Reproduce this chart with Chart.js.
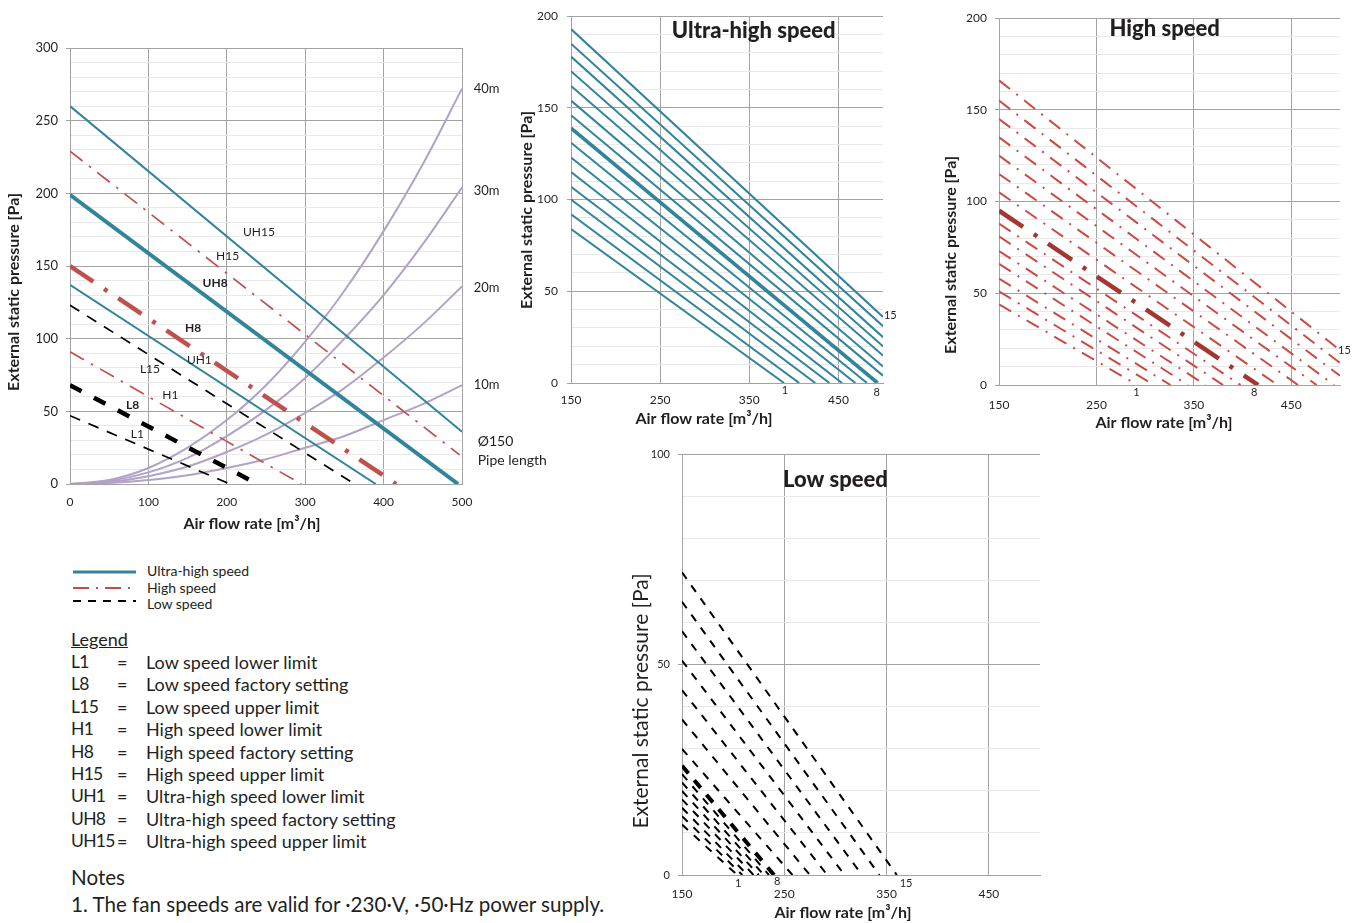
<!DOCTYPE html>
<html>
<head>
<meta charset="utf-8">
<script src="https://cdn.jsdelivr.net/npm/chart.js@4/dist/chart.umd.min.js"></script>
<style>
  body { margin: 0; background: #fff; font-family: Lato, sans-serif; color: #231f20; }
  #page { position: relative; width: 1362px; height: 923px; overflow: hidden; }
  canvas { position: absolute; }
  .t { position: absolute; white-space: nowrap; }
  .key { font-size: 14px; line-height: 16px; }
  .row { font-size: 18px; line-height: 22px; }
  .code { letter-spacing: -0.7px; font-size: 17.5px; }
  .note { font-size: 20.6px; line-height: 26px; }
</style>
</head>
<body>
<div id="page">
  <canvas id="main" width="580" height="510" style="left:0;top:30px"></canvas>
  <canvas id="ultra" width="400" height="440" style="left:510px;top:0"></canvas>
  <canvas id="high" width="427" height="445" style="left:935px;top:0"></canvas>
  <canvas id="low" width="440" height="483" style="left:625px;top:440px"></canvas>

  <svg class="t" style="left:70px;top:562px" width="70" height="46">
    <line x1="3" y1="10" x2="66" y2="10" stroke="#31849b" stroke-width="3"/>
    <line x1="3" y1="26" x2="66" y2="26" stroke="#c0504d" stroke-width="1.8" stroke-dasharray="16 7 2 7"/>
    <line x1="3" y1="39" x2="66" y2="39" stroke="#000" stroke-width="1.8" stroke-dasharray="8 7"/>
  </svg>
  <div class="t key" style="left:147px;top:563px">Ultra-high speed</div>
  <div class="t key" style="left:147px;top:580px">High speed</div>
  <div class="t key" style="left:147px;top:596px">Low speed</div>

  <div class="t row" style="left:71px;top:628px;text-decoration:underline">Legend</div>
  <div id="legendRows"></div>

  <div class="t note" style="left:71px;top:864px">Notes</div>
  <div class="t note" style="left:71px;top:891px">1. The fan speeds are valid for ·230·V, ·50·Hz power supply.</div>
</div>

<script>
// ---------- data (air flow m3/h, pressure Pa) ----------

// main chart lines, straight from start to end
const mainNames = ['UH15', 'UH8', 'UH1', 'H15', 'H8', 'H1', 'L15', 'L8', 'L1'];
const mainStartPa = [260, 199, 137, 229, 150, 91, 123, 68, 47];
const mainEndFlow = [500, 495, 390, 497, 416, 295, 363, 239, 204];
const mainEndPa = [36, 0, 0, 20, 0, 0, 0, 0, 0];

// pipe length curves (Ø150)
const pipeFlow = [0, 50, 100, 150, 200, 250, 300, 350, 400, 450, 500];
const pipe10m = [0, 0.7, 2.7, 6, 11, 17, 25, 33, 44, 55, 68];
const pipe20m = [0, 1.4, 5.4, 12, 22, 34, 49, 66, 87, 110, 136];
const pipe30m = [0, 2, 8, 18, 33, 51, 73, 100, 130, 165, 204];
const pipe40m = [0, 2.7, 11, 25, 44, 68, 98, 133, 174, 220, 272];

// small charts: steps 1..15, each line from flow 150 to its end
const steps = [1, 2, 3, 4, 5, 6, 7, 8, 9, 10, 11, 12, 13, 14, 15];
const uhStartPa = [84, 92, 100, 107, 115, 123, 131, 139, 146, 154, 162, 170, 178, 185, 193];
const uhEndFlow = [389, 406, 424, 440, 454, 469, 482, 494, 500, 500, 500, 500, 500, 500, 500];
const uhEndPa = [0, 0, 0, 0, 0, 0, 0, 0, 4, 9, 15, 20, 25, 31, 36];

const hStartPa = [44, 51, 58, 66, 73, 81, 88, 95, 105, 115, 125, 135, 145, 155, 166];
const hEndFlow = [292, 309, 326, 344, 362, 380, 398, 416, 436, 457, 476, 494, 500, 500, 500];
const hEndPa = [0, 0, 0, 0, 0, 0, 0, 0, 0, 0, 0, 0, 5, 12, 19];

const lStartPa = [12, 14, 16, 18, 20, 22, 24, 26, 30, 37, 44, 51, 58, 65, 72];
const lEndFlow = [204, 209, 214, 220, 225, 230, 235, 240, 258, 275, 292, 309, 326, 343, 360];
const lEndPa = [0, 0, 0, 0, 0, 0, 0, 0, 0, 0, 0, 0, 0, 0, 0];

const smallFlowTicks = [150, 250, 350, 450];

const legendCodes = ['L1', 'L8', 'L15', 'H1', 'H8', 'H15', 'UH1', 'UH8', 'UH15'];
const legendTexts = ['Low speed lower limit', 'Low speed factory setting', 'Low speed upper limit',
  'High speed lower limit', 'High speed factory setting', 'High speed upper limit',
  'Ultra-high speed lower limit', 'Ultra-high speed factory setting', 'Ultra-high speed upper limit'];

// ---------- styles ----------
const TEAL = '#31849b', RED = '#c0504d', DARKRED = '#a5362f', PURPLE = '#b3a2c7';
const GRID = '#a3a3a3', MINOR = '#e9e9e9', TXT = '#231f20';
const FLOW_TITLE = 'Air flow rate [m³/h]', PA_TITLE = 'External static pressure [Pa]';

Chart.defaults.font.family = 'Lato';
Chart.defaults.color = TXT;

const mainStyle = {
  UH15: {color: TEAL, width: 2, dash: []},
  UH8: {color: TEAL, width: 4, dash: []},
  UH1: {color: TEAL, width: 2, dash: []},
  H15: {color: RED, width: 1.7, dash: [16, 8, 2.5, 8]},
  H8: {color: RED, width: 4.5, dash: [28, 13, 4, 13]},
  H1: {color: RED, width: 1.7, dash: [16, 8, 2.5, 8]},
  L15: {color: '#000', width: 1.7, dash: [11, 9]},
  L8: {color: '#000', width: 4.5, dash: [13, 14]},
  L1: {color: '#000', width: 1.7, dash: [11, 9]}
};

// text drawn at data coordinates (q, p) or, for axis titles, at canvas pixels (px, py)
const textLabels = {
  id: 'textLabels',
  afterDatasetsDraw(chart, args, opts) {
    const {ctx, scales: {x, y}} = chart;
    (opts.items || []).forEach(it => {
      ctx.save();
      ctx.font = (it.weight || (it.bold ? 'bold' : 'normal')) + ' ' + (it.size || 12) + 'px Lato';
      ctx.fillStyle = TXT;
      ctx.textAlign = it.align || 'center';
      ctx.textBaseline = 'middle';
      const px = it.px !== undefined ? it.px : x.getPixelForValue(it.q);
      const py = it.py !== undefined ? it.py : y.getPixelForValue(it.p);
      ctx.translate(px, py);
      if (it.rotate) ctx.rotate(-Math.PI / 2);
      ctx.fillText(it.text, 0, 0);
      ctx.restore();
    });
  }
};

function seg(q0, p0, q1, p1) {
  return [{x: q0, y: p0}, {x: q1, y: p1}];
}

function lineSet(data, color, width, dash) {
  return {data, borderColor: color, borderWidth: width, borderDash: dash,
    showLine: true, pointRadius: 0, fill: false, borderCapStyle: 'butt'};
}

function yScale(max, opts) {
  return {
    min: 0, max,
    ticks: {stepSize: 10, autoSkip: false, padding: opts.tickPad, font: {size: opts.tickSize || 12},
      callback: v => (v % 50 === 0 ? v : '')},
    grid: {color: c => (c.tick && c.tick.value % 50 === 0 ? GRID : MINOR),
      tickColor: c => (c.tick && c.tick.value % 50 === 0 ? GRID : 'rgba(0,0,0,0)'),
      tickLength: 4},
    border: {color: GRID},
    afterFit: s => { s.width = opts.width; }
  };
}

function xScale(min, opts) {
  const sc = {
    min, max: 500,
    ticks: {stepSize: 100, autoSkip: false, padding: opts.tickPad, maxRotation: 0, font: {size: 12}},
    grid: {color: GRID, drawTicks: false},
    border: {color: GRID},
    afterFit: s => { s.height = opts.height; }
  };
  if (opts.ticks) sc.afterBuildTicks = s => { s.ticks = opts.ticks.map(v => ({value: v})); };
  return sc;
}

function axisTitles(xt, yt, yFont) {
  return [
    {text: FLOW_TITLE, px: xt[0], py: xt[1], bold: true, size: 16},
    Object.assign({text: PA_TITLE, px: yt[0], py: yt[1], rotate: true, bold: true, size: 16}, yFont || {})
  ];
}

function baseOptions(padding, labels, scales) {
  return {
    responsive: false, animation: false,
    layout: {padding},
    plugins: {legend: {display: false}, tooltip: {enabled: false}, textLabels: {items: labels}},
    scales
  };
}

// ---------- main chart ----------
const mainSets = mainNames.map((n, i) => {
  const st = mainStyle[n];
  return lineSet(seg(0, mainStartPa[i], mainEndFlow[i], mainEndPa[i]), st.color, st.width, st.dash);
});
[pipe40m, pipe30m, pipe20m, pipe10m].forEach(p => {
  const s = lineSet(pipeFlow.map((q, i) => ({x: q, y: p[i]})), PURPLE, 2, []);
  s.tension = 0.4;
  s.cubicInterpolationMode = 'monotone';
  mainSets.push(s);
});

const mainLabels = [
  {text: 'UH15', q: 241, p: 173},
  {text: 'H15', q: 201, p: 157},
  {text: 'UH8', q: 185, p: 138, bold: true},
  {text: 'H8', q: 157, p: 107, bold: true},
  {text: 'UH1', q: 165, p: 85},
  {text: 'L15', q: 102, p: 79},
  {text: 'H1', q: 128, p: 61},
  {text: 'L8', q: 80, p: 54, bold: true},
  {text: 'L1', q: 86, p: 34},
  {text: '40m', q: 515, p: 272, align: 'left', size: 13},
  {text: '30m', q: 515, p: 202, align: 'left', size: 13},
  {text: '20m', q: 515, p: 135, align: 'left', size: 13},
  {text: '10m', q: 515, p: 68, align: 'left', size: 13},
  {text: 'Ø150', q: 520, p: 29, align: 'left', size: 14},
  {text: 'Pipe length', q: 520, p: 16, align: 'left', size: 14}
].concat(axisTitles([252, 494], [14, 262]));

new Chart(document.getElementById('main'), {
  type: 'scatter',
  data: {datasets: mainSets},
  options: baseOptions({top: 18, right: 118, left: 0, bottom: 0}, mainLabels, {
    x: xScale(0, {tickPad: 11, height: 56}),
    y: yScale(300, {tickPad: 8, width: 70, tickSize: 13})
  }),
  plugins: [textLabels]
});

// ---------- ultra-high speed ----------
const uhSets = steps.map((n, i) => lineSet(seg(150, uhStartPa[i], uhEndFlow[i], uhEndPa[i]),
  TEAL, n === 8 ? 3.6 : 2, []));
new Chart(document.getElementById('ultra'), {
  type: 'scatter',
  data: {datasets: uhSets},
  options: baseOptions({top: 15, right: 27, left: 0, bottom: 0}, [
    {text: 'Ultra-high speed', q: 355, p: 192, weight: '900', size: 22},
    {text: '15', q: 501, p: 37, align: 'left', size: 11},
    {text: '1', q: 390, p: -4, size: 11},
    {text: '8', q: 493, p: -5, size: 11}
  ].concat(axisTitles([194, 419], [17, 210])), {
    x: xScale(150, {tickPad: 10, height: 57, ticks: smallFlowTicks}),
    y: yScale(200, {tickPad: 9, width: 61})
  }),
  plugins: [textLabels]
});

// ---------- high speed ----------
const hSets = steps.map((n, i) => n === 8
  ? lineSet(seg(150, hStartPa[i], hEndFlow[i], hEndPa[i]), DARKRED, 4.5, [29, 13, 4, 13])
  : lineSet(seg(150, hStartPa[i], hEndFlow[i], hEndPa[i]), '#cc4a45', 2, [14, 8, 2, 8]));
new Chart(document.getElementById('high'), {
  type: 'scatter',
  data: {datasets: hSets},
  options: baseOptions({top: 18, right: 22, left: 0, bottom: 0}, [
    {text: 'High speed', q: 320, p: 194, weight: '900', size: 22},
    {text: '15', q: 498, p: 19, align: 'left', size: 11},
    {text: '1', q: 291, p: -4, size: 11},
    {text: '8', q: 412, p: -4, size: 11}
  ].concat(axisTitles([229, 423], [16, 255])), {
    x: xScale(150, {tickPad: 13, height: 60, ticks: smallFlowTicks}),
    y: yScale(200, {tickPad: 8, width: 64})
  }),
  plugins: [textLabels]
});

// ---------- low speed ----------
const lSets = steps.map((n, i) => lineSet(seg(150, lStartPa[i], lEndFlow[i], lEndPa[i]),
  '#000', n === 8 ? 4 : 2, n === 8 ? [10, 9] : [8, 8]));
new Chart(document.getElementById('low'), {
  type: 'scatter',
  data: {datasets: lSets},
  options: baseOptions({top: 12, right: 25, left: 0, bottom: 0}, [
    {text: 'Low speed', q: 300, p: 94, weight: '900', size: 22},
    {text: '1', q: 205, p: -2, size: 11},
    {text: '8', q: 243, p: -1.5, size: 11},
    {text: '15', q: 369, p: -2, size: 11}
  ].concat(axisTitles([218, 473], [16, 261], {bold: false, size: 21})), {
    x: xScale(150, {tickPad: 12, height: 48, ticks: smallFlowTicks}),
    y: yScale(100, {tickPad: 8, width: 57, tickSize: 11})
  }),
  plugins: [textLabels]
});

// ---------- legend rows ----------
const rows = document.getElementById('legendRows');
legendCodes.forEach((c, i) => {
  const top = 651 + i * 22.4;
  rows.insertAdjacentHTML('beforeend',
    `<div class="t row code" style="left:71px;top:${top}px">${c}</div>` +
    `<div class="t row" style="left:117px;top:${top}px">=</div>` +
    `<div class="t row" style="left:146px;top:${top}px">${legendTexts[i]}</div>`);
});
</script>
</body>
</html>
